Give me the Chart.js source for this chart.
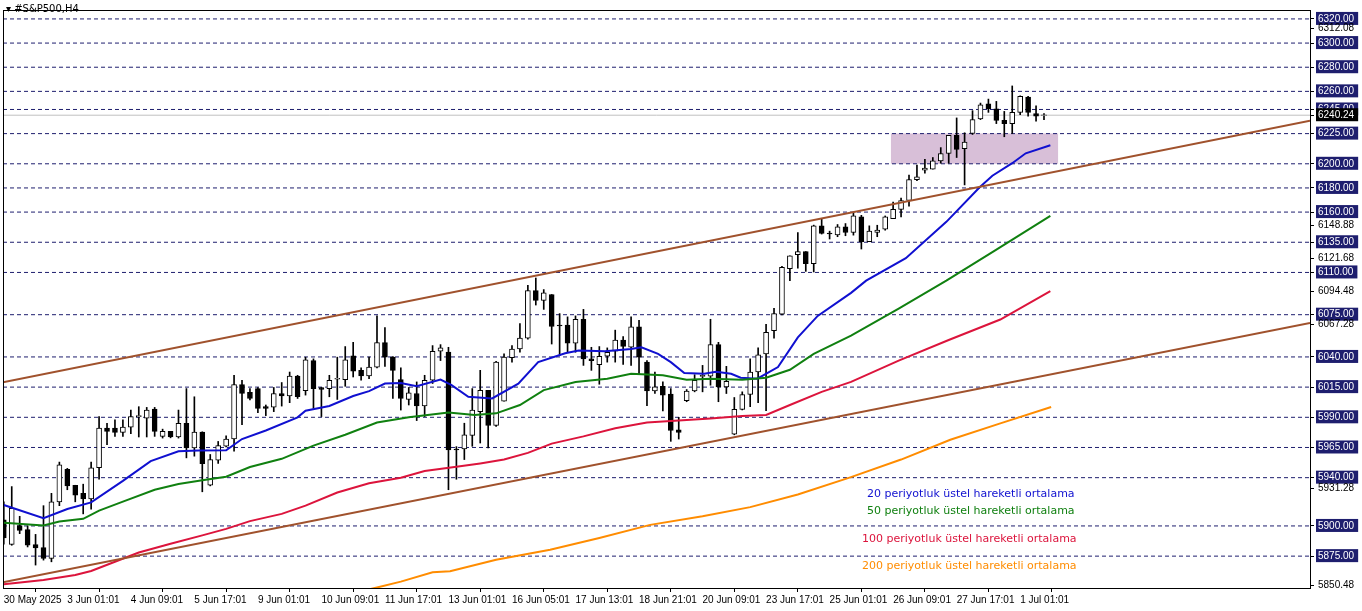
<!DOCTYPE html>
<html><head><meta charset="utf-8">
<script src="https://cdn.jsdelivr.net/npm/chart.js@4"></script>
<style>
html,body{margin:0;padding:0;background:#fff;}
#wrap{position:relative;width:1362px;height:611px;}
.t{position:absolute;font-family:"DejaVu Sans",sans-serif;font-size:11px;white-space:nowrap;}
</style></head><body>
<div id="wrap"><canvas id="c" width="1362" height="611"></canvas>
<div class="t" style="left:6px;top:3px;font-size:10px;color:#000">▾ #S&amp;P500,H4</div>
<div class="t" style="left:867px;top:487px;color:#1010d0">20 periyotluk üstel hareketli ortalama</div>
<div class="t" style="left:867px;top:504px;color:#108010">50 periyotluk üstel hareketli ortalama</div>
<div class="t" style="left:862px;top:532px;color:#dc143c">100 periyotluk üstel hareketli ortalama</div>
<div class="t" style="left:862px;top:559px;color:#ff8c00">200 periyotluk üstel hareketli ortalama</div>
</div>
<script>
const timeLabels=["30 May 2025","3 Jun 01:01","4 Jun 09:01","5 Jun 17:01","9 Jun 01:01","10 Jun 09:01","11 Jun 17:01","13 Jun 01:01","16 Jun 05:01","17 Jun 13:01","18 Jun 21:01","20 Jun 09:01","23 Jun 17:01","25 Jun 01:01","26 Jun 09:01","27 Jun 17:01","1 Jul 01:01"];
const opens=[5905,5884.8,5900.4,5897,5884.5,5882,5873,5920,5946.9,5933.7,5927,5922.3,5948.2,5981,5981,5977.5,5981.9,5990.6,5989.2,5996.9,5974.2,5978.3,5973.7,5985.1,5964.6,5977.8,5933.7,5954.5,5966,5972,6017.1,6010.6,6013.8,5998.8,5998.3,6009.7,6007.8,6024.2,6012,6037,6014.7,6013.8,6021.6,6021.2,6040.9,6028.9,6024.2,6031.6,6051.8,6039.8,6021.2,6004.8,6009.7,5999.4,6020.7,6044.7,6044,5963,5963.8,5975,5994.7,6012.4,5983.2,6003.4,6039.3,6046.6,6055.6,6095,6086.8,6091.7,6065.8,6066.3,6051.5,6071.2,6038.4,6033.5,6040.6,6044.7,6054,6048,6064.9,6035.7,6011.9,6015.7,6009.2,5979.6,6003.7,6011.9,6023.8,6024,6050.2,6015.2,5976.1,5996.6,6008.9,6027.5,6042.5,6061.7,6075.4,6113.1,6124.8,6127.3,6117.2,6148.6,6142,6141,6147.8,6143.1,6156,6135.5,6143.1,6145.8,6154.6,6162.3,6169.6,6186.9,6194.8,6195.6,6202.4,6208.5,6223.5,6212.6,6225.1,6237.1,6249.7,6245.6,6236,6233.3,6242.6,6255.2,6241.5,6240];
const highs=[5920,5932.6,5908,5900,5893,5916.8,5927,5952.9,5947.7,5933.7,5934.6,5952.9,5990.6,5985,5987.9,5987.9,5996,5998.8,5998.2,5998.2,5980.2,5978.3,5996,6013.8,6007,5978,5959.2,5970,5974.7,6024.8,6020.7,6013.8,6014.7,6000.2,6014.7,6018.8,6027.5,6024.8,6039.8,6038.4,6014.7,6024.8,6039.8,6048.6,6052.1,6031,6039.8,6074,6064.4,6040.4,6031,6014.7,6019.3,6024.8,6049.4,6050.2,6048,5965.7,5985.1,6013.8,6028.9,6012.4,6036.3,6042.5,6049.4,6067.7,6099.4,6105.4,6095.8,6091.7,6075.9,6073.2,6074,6079.4,6048,6048.6,6047.5,6062.2,6056.8,6073.2,6070.4,6037,6027.5,6019.3,6013.8,5990,6013,6025.3,6033,6071.2,6052.1,6032.2,6006.4,6011.1,6038.4,6047.5,6067.1,6080.3,6115,6123.7,6143.1,6127.3,6149.2,6154,6144.2,6149.7,6150.5,6159.5,6157.3,6148.6,6149.1,6156.8,6168.3,6171.6,6190.7,6198.9,6203.8,6205.2,6213.4,6223.5,6238,6225.7,6244,6250.3,6253.6,6251.7,6243.4,6264.5,6256.3,6255.8,6248,6241.5];
const lows=[5885,5884,5893.6,5882.6,5867.6,5871.7,5870.3,5916.8,5930,5920,5910,5914,5938.7,5967.4,5974.2,5974.2,5976.4,5973.7,5973.7,5974.2,5972.8,5973,5972.8,5956.4,5957.8,5928.3,5933.2,5951.8,5965.5,5961.9,5983.8,6004.3,5993.9,5991.4,5994.7,5999.3,6002.1,6005.6,6008.4,5997.4,5990.6,6007,6004.8,6015.7,6023.4,6020.7,6022.1,6031,6032.2,6005.6,5996,6000.2,5987.3,5990.6,6018,6037,5930,5938.7,5955,5966,5968.7,5964.6,5982.4,6003.4,6035.7,6043.9,6054.8,6083,6079.4,6050.7,6041.2,6043.9,6043.9,6033,6028.9,6017.4,6035.7,6035.7,6033.8,6033,6026.2,5999.6,6009.7,5995.2,5970.1,5972,6002.9,6011.1,6011.1,6016.6,6002.9,6009.7,5975.5,5996.1,5998.8,6002.1,5995.5,6055.6,6074.8,6103.2,6113.6,6110.9,6110.4,6141.8,6137.7,6139.6,6140.4,6140.9,6129.4,6135.5,6139.6,6145,6154.6,6156,6165,6186,6192.3,6195.6,6200.5,6200.5,6205.2,6182.5,6224.3,6236.6,6242.6,6233.3,6222.4,6225.1,6240.7,6239.4,6235.3,6236.6];
const closes=[5890,5914.6,5896.3,5884,5881.8,5873,5920,5950.7,5933.2,5925.5,5922.3,5948.2,5981,5978.3,5977.5,5981.9,5990.6,5991.4,5996,5978.3,5978.3,5973.7,5985.1,5964.6,5977.8,5951.5,5955,5966.5,5972,6017.1,6009.7,6005.6,5997.4,5997.4,6009.7,6007.8,6024.2,6007,6037.6,6013.8,6013,6020.7,6022.3,6037.6,6028.3,6024.2,6031.6,6051.8,6039.8,6028.9,6005.6,6010.3,5999.4,6020.7,6044.7,6047.5,5963,5962.7,5975.5,5996,6012.4,5983.2,6035.7,6039.8,6046.6,6055.6,6095,6086.8,6093.1,6065.2,6065.3,6051.5,6071.2,6038.4,6037,6040.6,6043.9,6054,6048.8,6064.9,6039.8,6011.9,6015.2,6008.4,5979.1,5977.5,6011.7,6020.7,6024.7,6050.2,6015.2,6019.8,5996.6,6008.9,6027.5,6041.7,6060.3,6075.9,6114.2,6123.7,6127.3,6117.2,6148.6,6142.3,6141.5,6147.8,6143.1,6156.8,6135.5,6144.2,6145,6156,6162.3,6169.6,6186.9,6189.3,6196.4,6202.4,6208.5,6223.5,6212,6218,6236.6,6248.9,6245.6,6236,6233.3,6242.6,6255.8,6242.6,6239.4,6240.24];
// moving averages: [bar index, price]
const ema20=[[0,5917.3],[5,5906.4],[8,5914],[11,5919.5],[15,5937.3],[18.5,5953.7],[22,5961.9],[24.5,5962.4],[28,5962.7],[30,5972],[33,5979.1],[37,5990],[38,5995.5],[41,5999.4],[44,6007.6],[46,6011.7],[48,6018],[50,6018.5],[52,6015.8],[55,6021.2],[56.4,6016.6],[58.5,6007],[61.5,6005.6],[64.8,6017.9],[67.3,6035.7],[70.7,6043.1],[72.4,6045.3],[75.7,6044.7],[79,6046.6],[80.3,6048],[82.4,6042.5],[84,6035.7],[85.7,6026.7],[88.2,6026.1],[89.7,6027.8],[91.6,6026.1],[92.8,6022.8],[94.9,6022],[97.5,6031.6],[100,6056.2],[102.5,6074],[106.7,6093.1],[108.6,6103.2],[113.6,6121.8],[118.7,6151.9],[122.9,6180.6],[124.5,6190.1],[127,6200.5],[128.7,6208.7],[131.8,6215.3]];
const ema50=[[0,5902.6],[5,5900.4],[7,5903.7],[10,5905.9],[12,5912.7],[15,5920.1],[19,5930],[22,5934.8],[25,5937.8],[28,5940.8],[31,5948.8],[35,5955.6],[39,5966.5],[43,5975.6],[47,5985.7],[51,5990.1],[56,5993.9],[59.3,5992],[62,5993.3],[65,6000.2],[68,6012.5],[72,6019.3],[76,6022],[79,6026.1],[83,6024.8],[86,6021.2],[89,6022],[93,6021.2],[96,6022.8],[99,6029.4],[102,6042.5],[106.7,6057.6],[112.7,6080],[118.7,6103.2],[124.6,6127.3],[131.8,6156.8]];
const ema100=[[0,5851.7],[5,5855.3],[9,5859.4],[11,5862.7],[14,5870.3],[17,5878],[21,5885.3],[25,5892.2],[28,5897.6],[31,5904],[35,5910],[38,5916.8],[42,5927.7],[46,5935.4],[50,5940],[53,5945.5],[57,5949],[60,5951.8],[63,5955],[66,5960.5],[69,5968.2],[73,5974.2],[77,5981],[81,5985.7],[85,5987.3],[89,5989],[93,5991.1],[96,5992],[99,6000.2],[103,6011.1],[106.7,6019.3],[112.7,6037],[119,6054],[125.5,6071],[131.8,6094.5]];
const ema200=[[46,5847.5],[47,5849],[50,5853.9],[54,5861.6],[56.2,5862.5],[62,5872],[68.8,5880.3],[75,5890],[81.4,5900.9],[88,5908],[94,5915.6],[100,5926],[106.6,5940.2],[113,5955],[119.2,5971.4],[125.5,5985],[131.9,5998.5]];
const upperTrend=[[-0.1,6019],[164.5,6235.6]];
const lowerTrend=[[-0.1,5853.3],[164.5,6068.2]];
const zone={x0:111.7,x1:132.8,y0:6200,y1:6225};
const levels=[6320,6300,6280,6260,6245,6225,6200,6180,6160,6135,6110,6075,6040,6015,5990,5965,5940,5900,5875];
const plainTicks=[6312.08,6148.88,6121.68,6094.48,6067.28,5931.28,5850.48];
const lastPrice=6240.24;

const N=closes.length;
const bodies=[],wicks=[],bodyFill=[];
for(let i=0;i<N;i++){
  let a=opens[i],b=closes[i];
  if(Math.abs(a-b)<0.6){b=a+0.6;}
  bodies.push({x:i,y:[a,b]});
  wicks.push({x:i,y:[lows[i],highs[i]]});
  bodyFill.push(closes[i]>=opens[i]?'#ffffff':'#000000');
}
const toXY=a=>a.map(p=>({x:p[0],y:p[1]}));
const line=(d,c,w)=>({type:'line',data:toXY(d),borderColor:c,borderWidth:w,pointRadius:0,tension:0,order:1});
const datasets=[];
datasets.push({type:'line',data:[{x:zone.x0,y:zone.y1},{x:zone.x1,y:zone.y1}],borderWidth:0,borderColor:'rgba(0,0,0,0)',backgroundColor:'#d8bfd8',fill:'+1',pointRadius:0,order:8});
datasets.push({type:'line',data:[{x:zone.x0,y:zone.y0},{x:zone.x1,y:zone.y0}],borderWidth:0,borderColor:'rgba(0,0,0,0)',fill:false,pointRadius:0,order:8});
levels.forEach(v=>datasets.push({type:'line',data:[{x:-0.1,y:v},{x:164.5,y:v}],borderColor:'#1e1e6e',borderWidth:1,borderDash:[4,3],pointRadius:0,order:9}));
datasets.push({type:'line',data:[{x:-0.1,y:lastPrice},{x:164.5,y:lastPrice}],borderColor:'#c0c0c0',borderWidth:1,pointRadius:0,order:9});
datasets.push(line(upperTrend,'#a0522d',2));
datasets.push(line(lowerTrend,'#a0522d',2));
datasets.push(line(ema200,'#ff8c00',2));
datasets.push(line(ema100,'#dc143c',2));
datasets.push(line(ema50,'#108010',2));
datasets.push(line(ema20,'#1010d0',2));
datasets.push({type:'bar',data:wicks,backgroundColor:'#000',barThickness:1,grouped:false,order:3});
datasets.push({type:'bar',data:bodies,backgroundColor:bodyFill,borderColor:'#000',borderWidth:1,borderSkipped:false,barThickness:5,grouped:false,order:2});

const boxed=new Set(levels);
const frame={id:'frame',afterDraw(ch){const a=ch.chartArea,c=ch.ctx;c.save();c.strokeStyle='#000';c.lineWidth=1;c.strokeRect(a.left+0.5,a.top+0.5,a.right-a.left,a.bottom-a.top);c.restore();}};
new Chart(document.getElementById('c'),{
  data:{datasets},
  options:{responsive:false,animation:false,events:[],
    layout:{padding:{left:3,top:3,right:0,bottom:0}},
    plugins:{legend:{display:false},tooltip:{enabled:false},filler:{drawTime:'beforeDatasetsDraw'}},
    scales:{
      x:{type:'linear',min:-0.1,max:164.5,offset:false,
        afterBuildTicks:s=>{s.ticks=timeLabels.map((_,i)=>({value:i*8}));},
        afterFit:s=>{s.height=23;},
        grid:{drawOnChartArea:false,tickLength:4,color:'#000'},border:{color:'#000'},
        ticks:{autoSkip:false,maxRotation:0,align:'start',padding:2,color:'#000',font:{family:'Liberation Sans',size:10},
          callback:(v)=>timeLabels[Math.round(v/8)]}},
      y:{type:'linear',position:'right',min:5848.6,max:6327.4,
        afterBuildTicks:s=>{s.ticks=[...levels,...plainTicks,lastPrice].sort((a,b)=>b-a).map(v=>({value:v}));},
        afterFit:s=>{s.width=52;},
        grid:{drawOnChartArea:false,tickLength:4,color:'#000'},border:{color:'#000'},
        ticks:{autoSkip:false,padding:4,font:{family:'Liberation Sans',size:10},
          color:c=>(boxed.has(c.tick.value)||c.tick.value===lastPrice)?'#fff':'#000',
          showLabelBackdrop:true,backdropPadding:{top:1,bottom:0,left:2,right:4},
          backdropColor:c=>c.tick.value===lastPrice?'#000':(boxed.has(c.tick.value)?'#1e1e6e':'rgba(0,0,0,0)'),
          callback:v=>v.toFixed(2)}}
    }},
  plugins:[frame]
});
</script></body></html>
